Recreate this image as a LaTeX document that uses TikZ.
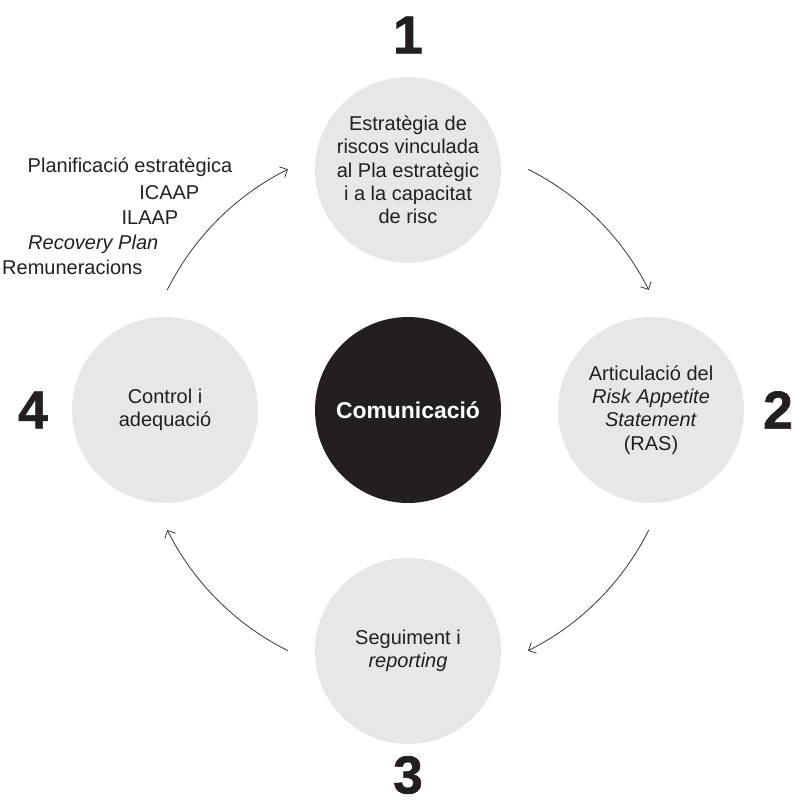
\documentclass[tikz,border=0pt]{standalone}
\usepackage{fontspec}
\setmainfont{Liberation Sans}
\newfontfamily\heavyfont[FakeBold=1.2]{Liberation Sans Bold}
\usepackage{xcolor}
\usetikzlibrary{arrows.meta}

\definecolor{ink}{HTML}{231F20}
\definecolor{disc}{HTML}{E6E7E8}

\begin{document}
\begin{tikzpicture}[x=0.75pt,y=0.75pt,
    every node/.style={text=ink,font=\fontsize{15}{17.5}\selectfont},
    stage/.style={circle,fill=disc,inner sep=0pt,minimum size=139.5pt,align=center},
    num/.style={inner sep=0pt,font=\fontsize{40}{40}\heavyfont},
    side/.style={anchor=base east}]
\useasboundingbox (-408,-395) rectangle (386,410);

\begin{scope}
    \node[stage] (s1) at (0,240) {Estratègia de\\riscos vinculada\\al Pla estratègic\\i a la capacitat\\de risc};
    \node[stage] (s2) at (243,0) {Articulació del\\\textit{Risk Appetite}\\\textit{Statement}\\(RAS)};
    \node[stage] (s3) at (0,-241) {Seguiment i\\\textit{reporting}};
    \node[stage] (s4) at (-243,0) {Control i\\adequació};
    \node[stage,fill=ink,text=white,font=\fontsize{17.2}{20}\selectfont\bfseries] (com) at (0,0) {Comunicació};
\end{scope}

\begin{scope}
    \node[num] (n1) at (0,375) {1};
    \node[num] (n2) at (370,0) {2};
    \node[num] (n3) at (0,-365) {3};
    \node[num] (n4) at (-375,0) {4};
\end{scope}

\begin{scope}
    \node[side] (p1) at (-171,237) {Planificació estratègica};
    \node[side] (p2) at (-204,210) {ICAAP};
    \node[side] (p3) at (-225,185) {ILAAP};
    \node[side] (p4) at (-245,160) {\textit{Recovery Plan}};
    \node[side] (p5) at (-261,135) {Remuneracions};
\end{scope}

\coordinate (a1) at (153.5:269);
\coordinate (a2) at (63.5:269);
\coordinate (a3) at (-26.5:269);
\coordinate (a4) at (243.5:269);

\begin{scope}[>={Straight Barb[length=4.5pt,width=9pt]},
              every path/.style={draw=ink!90,line width=0.6pt}]
    \draw[->] (a1) arc[start angle=153.5,end angle=116.5,radius=269];
    \draw[->] (a2) arc[start angle=63.5,end angle=26.5,radius=269];
    \draw[->] (a3) arc[start angle=-26.5,end angle=-63.5,radius=269];
    \draw[->] (a4) arc[start angle=243.5,end angle=206.5,radius=269];
\end{scope}
\end{tikzpicture}
\end{document}
